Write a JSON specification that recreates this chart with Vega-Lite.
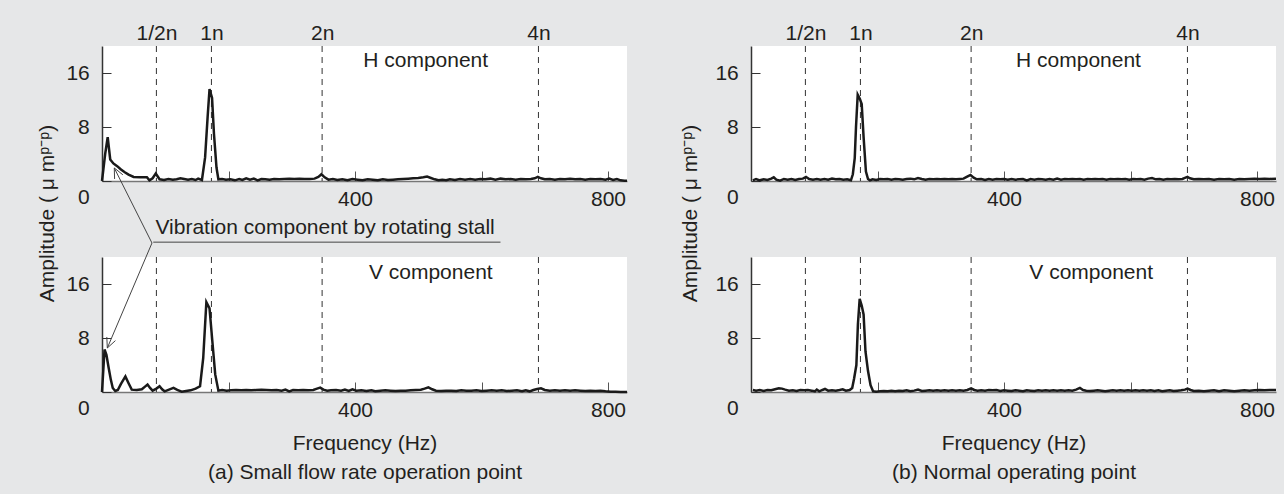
{
  "$schema": "https://vega.github.io/schema/vega-lite/v6.json",
  "background": "#e6e7e8",
  "padding": {"left": 36, "top": 22, "right": 8, "bottom": 12},
  "config": {
    "font": "Liberation Sans",
    "view": {"stroke": null, "fill": "white"},
    "axis": {"labelFont": "Liberation Sans", "labelFontSize": 21, "labelColor": "#231f20", "titleFont": "Liberation Sans", "titleFontSize": 21, "titleFontWeight": "normal", "titleColor": "#231f20", "grid": false, "domainColor": "#333", "domainWidth": 1.5, "tickColor": "#333"},
    "text": {"font": "Liberation Sans", "fontSize": 21, "color": "#231f20"}
  },
  "datasets": {
    "harm": [{"f": 86}, {"f": 173}, {"f": 348}, {"f": 690}],
    "ann": [
      {"x1": 81, "y1": 22.2, "x2": 630, "y2": 22.2},
      {"x1": 79, "y1": 22.07, "x2": 19.4, "y2": 33.19},
      {"x1": 19.4, "y1": 33.19, "x2": 19.9, "y2": 31.56},
      {"x1": 19.4, "y1": 33.19, "x2": 33.0, "y2": 32.18},
      {"x1": 79, "y1": 22.07, "x2": 8.4, "y2": 6.52},
      {"x1": 8.4, "y1": 6.52, "x2": 7.6, "y2": 8.15},
      {"x1": 8.4, "y1": 6.52, "x2": 21.2, "y2": 7.61}
    ],
    "tl": [{"f":0,"a":0},{"f":5,"a":4.0},{"f":9,"a":6.5},{"f":13,"a":3.2},{"f":18,"a":2.6},{"f":24,"a":2.2},{"f":30,"a":1.7},{"f":36,"a":1.3},{"f":42,"a":0.95},{"f":50,"a":0.6},{"f":60,"a":0.55},{"f":71,"a":0.55},{"f":75,"a":0.1},{"f":80,"a":0.4},{"f":85,"a":1.1},{"f":91,"a":0.25},{"f":98,"a":0.15},{"f":105,"a":0.3},{"f":112,"a":0.2},{"f":118,"a":0.25},{"f":124,"a":0.4},{"f":130,"a":0.3},{"f":136,"a":0.2},{"f":142,"a":0.3},{"f":148,"a":0.15},{"f":152,"a":0.35},{"f":158,"a":0.15},{"f":163,"a":3.5},{"f":167,"a":9.5},{"f":170,"a":13.6},{"f":174,"a":12.3},{"f":177,"a":7},{"f":181,"a":2},{"f":184,"a":0.25},{"f":190,"a":0.3},{"f":196,"a":0.2},{"f":203,"a":0.25},{"f":210,"a":0.1},{"f":217,"a":0.3},{"f":222,"a":0.15},{"f":228,"a":0.4},{"f":234,"a":0.2},{"f":240,"a":0.35},{"f":246,"a":0.1},{"f":252,"a":0.3},{"f":258,"a":0.25},{"f":265,"a":0.2},{"f":272,"a":0.3},{"f":280,"a":0.25},{"f":288,"a":0.3},{"f":296,"a":0.35},{"f":304,"a":0.3},{"f":312,"a":0.35},{"f":320,"a":0.3},{"f":328,"a":0.3},{"f":336,"a":0.35},{"f":342,"a":0.6},{"f":347,"a":1.0},{"f":352,"a":0.55},{"f":358,"a":0.2},{"f":365,"a":0.3},{"f":372,"a":0.15},{"f":380,"a":0.25},{"f":388,"a":0.1},{"f":396,"a":0.3},{"f":404,"a":0.2},{"f":412,"a":0.1},{"f":420,"a":0.25},{"f":428,"a":0.2},{"f":436,"a":0.1},{"f":444,"a":0.25},{"f":452,"a":0.15},{"f":460,"a":0.2},{"f":468,"a":0.25},{"f":476,"a":0.3},{"f":484,"a":0.35},{"f":492,"a":0.4},{"f":500,"a":0.45},{"f":508,"a":0.55},{"f":514,"a":0.65},{"f":520,"a":0.45},{"f":526,"a":0.25},{"f":532,"a":0.1},{"f":538,"a":0.2},{"f":544,"a":0.1},{"f":550,"a":0.25},{"f":558,"a":0.15},{"f":566,"a":0.3},{"f":574,"a":0.2},{"f":582,"a":0.3},{"f":590,"a":0.2},{"f":598,"a":0.3},{"f":606,"a":0.25},{"f":614,"a":0.35},{"f":622,"a":0.2},{"f":630,"a":0.35},{"f":638,"a":0.25},{"f":646,"a":0.3},{"f":654,"a":0.2},{"f":662,"a":0.3},{"f":670,"a":0.25},{"f":678,"a":0.3},{"f":684,"a":0.4},{"f":689,"a":0.6},{"f":694,"a":0.4},{"f":700,"a":0.25},{"f":708,"a":0.3},{"f":716,"a":0.2},{"f":724,"a":0.3},{"f":732,"a":0.25},{"f":740,"a":0.35},{"f":748,"a":0.25},{"f":756,"a":0.3},{"f":764,"a":0.2},{"f":772,"a":0.3},{"f":780,"a":0.25},{"f":788,"a":0.3},{"f":796,"a":0.2},{"f":802,"a":0.35},{"f":808,"a":0.15},{"f":814,"a":0.3},{"f":820,"a":0.1},{"f":826,"a":0.05},{"f":830,"a":0.05}],
    "bl": [{"f":0,"a":0},{"f":4,"a":6.3},{"f":7,"a":5.5},{"f":10.5,"a":3.6},{"f":14,"a":1.8},{"f":17,"a":0.6},{"f":21,"a":0.15},{"f":25,"a":0.3},{"f":30,"a":1.2},{"f":37,"a":2.3},{"f":42,"a":1.3},{"f":47,"a":0.35},{"f":55,"a":0.3},{"f":63,"a":0.4},{"f":68,"a":0.8},{"f":72,"a":1.1},{"f":76,"a":0.6},{"f":80,"a":0.2},{"f":86,"a":0.5},{"f":91,"a":0.85},{"f":95,"a":0.4},{"f":99,"a":0.1},{"f":106,"a":0.35},{"f":113,"a":0.6},{"f":119,"a":0.3},{"f":126,"a":0.05},{"f":133,"a":0.15},{"f":140,"a":0.25},{"f":148,"a":0.5},{"f":155,"a":0.85},{"f":160,"a":5},{"f":165,"a":13.3},{"f":170,"a":12.4},{"f":174,"a":8},{"f":179,"a":2.6},{"f":184,"a":0.2},{"f":190,"a":0.3},{"f":197,"a":0.2},{"f":204,"a":0.25},{"f":212,"a":0.3},{"f":220,"a":0.25},{"f":228,"a":0.3},{"f":236,"a":0.25},{"f":244,"a":0.3},{"f":252,"a":0.35},{"f":260,"a":0.3},{"f":268,"a":0.25},{"f":276,"a":0.3},{"f":284,"a":0.2},{"f":290,"a":0.35},{"f":296,"a":0.1},{"f":302,"a":0.3},{"f":310,"a":0.25},{"f":318,"a":0.3},{"f":326,"a":0.25},{"f":334,"a":0.3},{"f":340,"a":0.5},{"f":345,"a":0.65},{"f":350,"a":0.35},{"f":356,"a":0.2},{"f":362,"a":0.25},{"f":370,"a":0.3},{"f":378,"a":0.2},{"f":384,"a":0.35},{"f":390,"a":0.15},{"f":396,"a":0.4},{"f":402,"a":0.2},{"f":410,"a":0.25},{"f":418,"a":0.15},{"f":426,"a":0.25},{"f":432,"a":0.1},{"f":440,"a":0.2},{"f":448,"a":0.25},{"f":456,"a":0.2},{"f":464,"a":0.15},{"f":472,"a":0.2},{"f":480,"a":0.2},{"f":488,"a":0.25},{"f":496,"a":0.3},{"f":504,"a":0.35},{"f":510,"a":0.5},{"f":516,"a":0.7},{"f":522,"a":0.4},{"f":528,"a":0.2},{"f":536,"a":0.15},{"f":544,"a":0.2},{"f":552,"a":0.2},{"f":560,"a":0.15},{"f":568,"a":0.25},{"f":576,"a":0.2},{"f":584,"a":0.2},{"f":592,"a":0.25},{"f":600,"a":0.15},{"f":608,"a":0.2},{"f":616,"a":0.25},{"f":624,"a":0.2},{"f":632,"a":0.25},{"f":640,"a":0.15},{"f":648,"a":0.2},{"f":656,"a":0.25},{"f":664,"a":0.1},{"f":670,"a":0.25},{"f":676,"a":0.1},{"f":682,"a":0.3},{"f":688,"a":0.45},{"f":694,"a":0.55},{"f":700,"a":0.3},{"f":708,"a":0.2},{"f":716,"a":0.25},{"f":724,"a":0.2},{"f":732,"a":0.25},{"f":740,"a":0.2},{"f":748,"a":0.25},{"f":756,"a":0.2},{"f":764,"a":0.15},{"f":772,"a":0.2},{"f":780,"a":0.15},{"f":788,"a":0.2},{"f":796,"a":0.1},{"f":804,"a":0.05},{"f":812,"a":0.05},{"f":820,"a":0},{"f":830,"a":0}],
    "tr": [{"f":3,"a":0.1},{"f":8,"a":0.3},{"f":14,"a":0.1},{"f":20,"a":0.25},{"f":26,"a":0.15},{"f":32,"a":0.35},{"f":36,"a":0.55},{"f":40,"a":0.2},{"f":46,"a":0.05},{"f":52,"a":0.3},{"f":58,"a":0.2},{"f":64,"a":0.3},{"f":70,"a":0.15},{"f":76,"a":0.3},{"f":82,"a":0.35},{"f":87,"a":0.6},{"f":92,"a":0.3},{"f":98,"a":0.2},{"f":104,"a":0.3},{"f":110,"a":0.2},{"f":116,"a":0.3},{"f":122,"a":0.2},{"f":128,"a":0.35},{"f":134,"a":0.25},{"f":140,"a":0.3},{"f":146,"a":0.2},{"f":152,"a":0.25},{"f":158,"a":0.1},{"f":161,"a":1.0},{"f":164,"a":3.4},{"f":166,"a":8},{"f":168.7,"a":12.8},{"f":172,"a":12.2},{"f":175,"a":11.4},{"f":178,"a":6.5},{"f":181.7,"a":1.4},{"f":185,"a":0.3},{"f":188,"a":0.1},{"f":192,"a":0.25},{"f":198,"a":0.15},{"f":204,"a":0.3},{"f":210,"a":0.25},{"f":216,"a":0.3},{"f":222,"a":0.2},{"f":228,"a":0.3},{"f":234,"a":0.25},{"f":240,"a":0.2},{"f":246,"a":0.3},{"f":252,"a":0.35},{"f":258,"a":0.25},{"f":264,"a":0.45},{"f":270,"a":0.3},{"f":276,"a":0.2},{"f":282,"a":0.3},{"f":288,"a":0.25},{"f":294,"a":0.3},{"f":300,"a":0.25},{"f":306,"a":0.3},{"f":312,"a":0.25},{"f":318,"a":0.3},{"f":324,"a":0.25},{"f":330,"a":0.3},{"f":336,"a":0.35},{"f":341,"a":0.6},{"f":347,"a":0.9},{"f":352,"a":0.5},{"f":357,"a":0.25},{"f":364,"a":0.3},{"f":370,"a":0.15},{"f":376,"a":0.3},{"f":382,"a":0.2},{"f":388,"a":0.3},{"f":394,"a":0.25},{"f":400,"a":0.3},{"f":406,"a":0.2},{"f":412,"a":0.3},{"f":418,"a":0.2},{"f":424,"a":0.25},{"f":430,"a":0.3},{"f":436,"a":0.1},{"f":442,"a":0.3},{"f":448,"a":0.2},{"f":454,"a":0.3},{"f":460,"a":0.25},{"f":466,"a":0.2},{"f":472,"a":0.3},{"f":478,"a":0.2},{"f":484,"a":0.35},{"f":490,"a":0.2},{"f":496,"a":0.3},{"f":502,"a":0.25},{"f":508,"a":0.3},{"f":514,"a":0.25},{"f":520,"a":0.3},{"f":526,"a":0.2},{"f":532,"a":0.3},{"f":538,"a":0.25},{"f":544,"a":0.3},{"f":550,"a":0.25},{"f":556,"a":0.3},{"f":562,"a":0.2},{"f":568,"a":0.3},{"f":574,"a":0.25},{"f":580,"a":0.3},{"f":586,"a":0.25},{"f":592,"a":0.3},{"f":598,"a":0.2},{"f":604,"a":0.3},{"f":610,"a":0.25},{"f":616,"a":0.3},{"f":622,"a":0.2},{"f":628,"a":0.35},{"f":634,"a":0.45},{"f":640,"a":0.25},{"f":646,"a":0.3},{"f":652,"a":0.2},{"f":658,"a":0.3},{"f":664,"a":0.25},{"f":670,"a":0.3},{"f":676,"a":0.25},{"f":682,"a":0.3},{"f":686,"a":0.45},{"f":690,"a":0.6},{"f":694,"a":0.4},{"f":700,"a":0.25},{"f":708,"a":0.3},{"f":716,"a":0.25},{"f":724,"a":0.3},{"f":732,"a":0.2},{"f":740,"a":0.3},{"f":748,"a":0.25},{"f":756,"a":0.3},{"f":764,"a":0.2},{"f":772,"a":0.3},{"f":780,"a":0.25},{"f":788,"a":0.3},{"f":796,"a":0.35},{"f":804,"a":0.3},{"f":812,"a":0.35},{"f":820,"a":0.3},{"f":830,"a":0.35}],
    "br": [{"f":3,"a":0.3},{"f":8,"a":0.2},{"f":14,"a":0.3},{"f":20,"a":0.15},{"f":26,"a":0.3},{"f":32,"a":0.25},{"f":38,"a":0.4},{"f":44,"a":0.55},{"f":49,"a":0.5},{"f":54,"a":0.35},{"f":60,"a":0.2},{"f":66,"a":0.25},{"f":72,"a":0.15},{"f":78,"a":0.3},{"f":84,"a":0.25},{"f":90,"a":0.3},{"f":96,"a":0.2},{"f":101,"a":0.1},{"f":104,"a":0.35},{"f":108,"a":0.1},{"f":113,"a":0.3},{"f":117,"a":0.45},{"f":122,"a":0.2},{"f":128,"a":0.25},{"f":134,"a":0.2},{"f":140,"a":0.3},{"f":145,"a":0.4},{"f":150,"a":0.2},{"f":156,"a":0.3},{"f":160,"a":0.6},{"f":163,"a":2},{"f":166.6,"a":4.0},{"f":169,"a":10},{"f":171.8,"a":13.8},{"f":175,"a":12.8},{"f":178,"a":11.5},{"f":181,"a":6},{"f":185,"a":3.1},{"f":189,"a":1.0},{"f":193,"a":0.1},{"f":198,"a":0.05},{"f":204,"a":0.1},{"f":210,"a":0.15},{"f":216,"a":0.1},{"f":222,"a":0.2},{"f":228,"a":0.1},{"f":234,"a":0.2},{"f":240,"a":0.15},{"f":246,"a":0.25},{"f":252,"a":0.1},{"f":258,"a":0.2},{"f":264,"a":0.35},{"f":270,"a":0.15},{"f":276,"a":0.2},{"f":282,"a":0.25},{"f":288,"a":0.2},{"f":294,"a":0.25},{"f":300,"a":0.2},{"f":306,"a":0.25},{"f":312,"a":0.2},{"f":318,"a":0.25},{"f":324,"a":0.2},{"f":330,"a":0.25},{"f":336,"a":0.2},{"f":342,"a":0.3},{"f":348,"a":0.55},{"f":353,"a":0.3},{"f":358,"a":0.2},{"f":364,"a":0.25},{"f":370,"a":0.2},{"f":376,"a":0.3},{"f":382,"a":0.25},{"f":388,"a":0.3},{"f":394,"a":0.15},{"f":400,"a":0.25},{"f":406,"a":0.2},{"f":412,"a":0.15},{"f":418,"a":0.25},{"f":424,"a":0.2},{"f":430,"a":0.1},{"f":436,"a":0.25},{"f":442,"a":0.2},{"f":448,"a":0.15},{"f":454,"a":0.25},{"f":460,"a":0.2},{"f":466,"a":0.25},{"f":472,"a":0.2},{"f":478,"a":0.25},{"f":484,"a":0.2},{"f":490,"a":0.25},{"f":496,"a":0.2},{"f":502,"a":0.25},{"f":508,"a":0.2},{"f":514,"a":0.35},{"f":520,"a":0.6},{"f":525,"a":0.3},{"f":530,"a":0.2},{"f":536,"a":0.15},{"f":542,"a":0.2},{"f":548,"a":0.25},{"f":554,"a":0.2},{"f":560,"a":0.1},{"f":566,"a":0.2},{"f":572,"a":0.25},{"f":578,"a":0.2},{"f":584,"a":0.25},{"f":590,"a":0.2},{"f":596,"a":0.25},{"f":602,"a":0.2},{"f":608,"a":0.25},{"f":614,"a":0.2},{"f":620,"a":0.25},{"f":626,"a":0.2},{"f":632,"a":0.25},{"f":638,"a":0.15},{"f":644,"a":0.25},{"f":650,"a":0.1},{"f":656,"a":0.2},{"f":662,"a":0.25},{"f":668,"a":0.15},{"f":674,"a":0.2},{"f":680,"a":0.25},{"f":686,"a":0.35},{"f":690,"a":0.5},{"f":695,"a":0.3},{"f":700,"a":0.15},{"f":708,"a":0.2},{"f":716,"a":0.1},{"f":724,"a":0.2},{"f":732,"a":0.25},{"f":740,"a":0.1},{"f":748,"a":0.25},{"f":756,"a":0.2},{"f":764,"a":0.1},{"f":772,"a":0.2},{"f":780,"a":0.25},{"f":788,"a":0.2},{"f":796,"a":0.25},{"f":804,"a":0.3},{"f":812,"a":0.25},{"f":820,"a":0.3},{"f":830,"a":0.3}]
  },
  "columns": 2,
  "spacing": {"row": 76, "column": 124},
  "bounds": "flush",
  "concat": [
    {
      "width": 525, "height": 135,
      "resolve": {"axis": {"x": "independent"}},
      "layer": [
        {"data": {"name": "harm"}, "mark": {"type": "rule", "strokeDash": [6, 5], "color": "#333", "strokeWidth": 1},
         "encoding": {"x": {"field": "f", "type": "quantitative", "scale": {"domain": [0, 830], "nice": false, "zero": false},
           "axis": {"orient": "top", "values": [86, 173, 348, 690], "labelExpr": "datum.value==86?'1/2n':datum.value==173?'1n':datum.value==348?'2n':'4n'", "domain": false, "ticks": false, "title": null, "labelPadding": 3, "labelFlush": false}}}},
        {"data": {"name": "tl"}, "mark": {"type": "line", "color": "#1a1a1a", "strokeWidth": 2.5},
         "encoding": {
           "x": {"field": "f", "type": "quantitative", "axis": {"orient": "bottom", "values": [200, 400, 600, 800], "labelExpr": "datum.value==200||datum.value==600?'':datum.label", "title": null, "tickSize": -10, "tickColor": "#555", "domainColor": "#777", "labelPadding": 17, "labelFlush": false, "labelOverlap": false}},
           "y": {"field": "a", "type": "quantitative", "scale": {"domain": [0, 20], "nice": false}, "axis": {"values": [0, 8, 16], "title": "Amplitude ( μ mᵖ⁻ᵖ)", "titleX": -55, "titleY": 167, "titleAngle": -90, "titleBaseline": "middle", "titleAlign": "center", "tickSize": -9, "labelPadding": 21.7, "labelOffset": {"condition": {"test": "datum.value === 0", "value": 16}, "value": 0}}}}},
        {"data": {"values": [{}]}, "mark": {"type": "text", "align": "left", "baseline": "middle"},
         "encoding": {"x": {"datum": 413, "type": "quantitative", "axis": null}, "y": {"datum": 17.8, "type": "quantitative"}, "text": {"value": "H component"}}}
      ]
    },
    {
      "width": 525, "height": 135,
      "resolve": {"axis": {"x": "independent"}},
      "layer": [
        {"data": {"name": "harm"}, "mark": {"type": "rule", "strokeDash": [6, 5], "color": "#333", "strokeWidth": 1},
         "encoding": {"x": {"field": "f", "type": "quantitative", "scale": {"domain": [0, 830], "nice": false, "zero": false},
           "axis": {"orient": "top", "values": [86, 173, 348, 690], "labelExpr": "datum.value==86?'1/2n':datum.value==173?'1n':datum.value==348?'2n':'4n'", "domain": false, "ticks": false, "title": null, "labelPadding": 3, "labelFlush": false}}}},
        {"data": {"name": "tr"}, "mark": {"type": "line", "color": "#1a1a1a", "strokeWidth": 2.5},
         "encoding": {
           "x": {"field": "f", "type": "quantitative", "axis": {"orient": "bottom", "values": [200, 400, 600, 800], "labelExpr": "datum.value==200||datum.value==600?'':datum.label", "title": null, "tickSize": -10, "tickColor": "#555", "domainColor": "#777", "labelPadding": 17, "labelFlush": false, "labelOverlap": false}},
           "y": {"field": "a", "type": "quantitative", "scale": {"domain": [0, 20], "nice": false}, "axis": {"values": [0, 8, 16], "title": "Amplitude ( μ mᵖ⁻ᵖ)", "titleX": -61, "titleY": 167, "titleAngle": -90, "titleBaseline": "middle", "titleAlign": "center", "tickSize": -9, "labelPadding": 21.7, "labelOffset": {"condition": {"test": "datum.value === 0", "value": 16}, "value": 0}}}}},
        {"data": {"values": [{}]}, "mark": {"type": "text", "align": "left", "baseline": "middle"},
         "encoding": {"x": {"datum": 419, "type": "quantitative", "axis": null}, "y": {"datum": 17.8, "type": "quantitative"}, "text": {"value": "H component"}}}
      ]
    },
    {
      "width": 525, "height": 135,
      "resolve": {"axis": {"x": "independent"}},
      "layer": [
        {"data": {"name": "harm"}, "mark": {"type": "rule", "strokeDash": [6, 5], "color": "#333", "strokeWidth": 1},
         "encoding": {"x": {"field": "f", "type": "quantitative", "scale": {"domain": [0, 830], "nice": false, "zero": false}, "axis": null}}},
        {"data": {"name": "bl"}, "mark": {"type": "line", "color": "#1a1a1a", "strokeWidth": 2.5},
         "encoding": {
           "x": {"field": "f", "type": "quantitative", "axis": {"orient": "bottom", "values": [200, 400, 600, 800], "labelExpr": "datum.value==200||datum.value==600?'':datum.label", "title": ["Frequency (Hz)", "(a) Small flow rate operation point"], "titleX": 262.5, "titleY": 40, "titleBaseline": "top", "titleAlign": "center", "titleLineHeight": 29, "tickSize": -10, "tickColor": "#555", "domainColor": "#777", "labelPadding": 17, "labelFlush": false, "labelOverlap": false}},
           "y": {"field": "a", "type": "quantitative", "scale": {"domain": [0, 20], "nice": false}, "axis": {"values": [0, 8, 16], "title": null, "tickSize": -9, "labelPadding": 21.7, "labelOffset": {"condition": {"test": "datum.value === 0", "value": 16}, "value": 0}}}}},
        {"data": {"values": [{}]}, "mark": {"type": "text", "align": "left", "baseline": "middle"},
         "encoding": {"x": {"datum": 422, "type": "quantitative", "axis": null}, "y": {"datum": 17.6, "type": "quantitative"}, "text": {"value": "V component"}}},
        {"data": {"name": "ann"}, "mark": {"type": "rule", "color": "#444", "strokeWidth": 1},
         "encoding": {"x": {"field": "x1", "type": "quantitative", "axis": null}, "x2": {"field": "x2"}, "y": {"field": "y1", "type": "quantitative"}, "y2": {"field": "y2"}}},
        {"data": {"values": [{}]}, "mark": {"type": "text", "align": "left", "baseline": "middle"},
         "encoding": {"x": {"datum": 84.5, "type": "quantitative", "axis": null}, "y": {"datum": 24.3, "type": "quantitative"}, "text": {"value": "Vibration component by rotating stall"}}}
      ]
    },
    {
      "width": 525, "height": 135,
      "resolve": {"axis": {"x": "independent"}},
      "layer": [
        {"data": {"name": "harm"}, "mark": {"type": "rule", "strokeDash": [6, 5], "color": "#333", "strokeWidth": 1},
         "encoding": {"x": {"field": "f", "type": "quantitative", "scale": {"domain": [0, 830], "nice": false, "zero": false}, "axis": null}}},
        {"data": {"name": "br"}, "mark": {"type": "line", "color": "#1a1a1a", "strokeWidth": 2.5},
         "encoding": {
           "x": {"field": "f", "type": "quantitative", "axis": {"orient": "bottom", "values": [200, 400, 600, 800], "labelExpr": "datum.value==200||datum.value==600?'':datum.label", "title": ["Frequency (Hz)", "(b) Normal operating point"], "titleX": 262.5, "titleY": 40, "titleBaseline": "top", "titleAlign": "center", "titleLineHeight": 29, "tickSize": -10, "tickColor": "#555", "domainColor": "#777", "labelPadding": 17, "labelFlush": false, "labelOverlap": false}},
           "y": {"field": "a", "type": "quantitative", "scale": {"domain": [0, 20], "nice": false}, "axis": {"values": [0, 8, 16], "title": null, "tickSize": -9, "labelPadding": 21.7, "labelOffset": {"condition": {"test": "datum.value === 0", "value": 16}, "value": 0}}}}},
        {"data": {"values": [{}]}, "mark": {"type": "text", "align": "left", "baseline": "middle"},
         "encoding": {"x": {"datum": 440, "type": "quantitative", "axis": null}, "y": {"datum": 17.6, "type": "quantitative"}, "text": {"value": "V component"}}}
      ]
    }
  ]
}
